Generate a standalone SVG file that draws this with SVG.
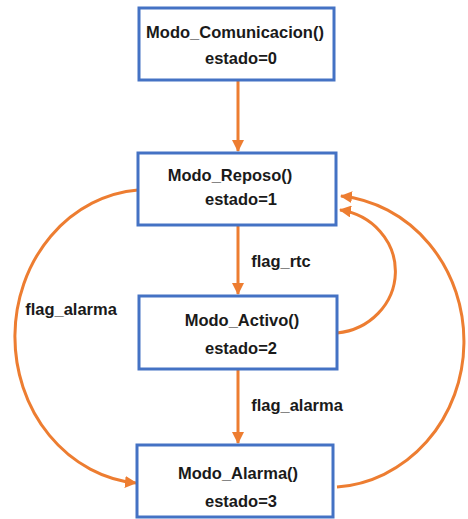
<svg xmlns="http://www.w3.org/2000/svg" width="468" height="519" viewBox="0 0 468 519">
<style>
.box{fill:#fff;stroke:#4472C4;stroke-width:3}
.t{font-family:"Liberation Sans",Arial,sans-serif;font-weight:bold;font-size:16.5px;fill:#1a1a1a;text-anchor:middle}
.c{fill:none;stroke:#ED7D31;stroke-width:3;marker-end:url(#ah)}
</style>
<defs>
<marker id="ah" markerWidth="12" markerHeight="12" refX="11" refY="6" orient="auto" markerUnits="userSpaceOnUse">
<path d="M0,0 L12,6 L0,12 z" fill="#ED7D31"/>
</marker>
</defs>
<rect width="468" height="519" fill="#fff"/>
<g id="connectors">
<path class="c" d="M238,81 L238,151"/>
<path class="c" d="M238,226 L238,294"/>
<path class="c" d="M238,370 L238,443"/>
<path class="c" d="M138,190 A133,147 0 0 0 136,483"/>
<path class="c" d="M337,333 A65,62 0 0 0 340,210"/>
<path class="c" d="M337,487 A136,146 0 0 0 341,196"/>
<text class="t" x="281" y="267">flag_rtc</text>
<text class="t" x="297" y="411">flag_alarma</text>
<text class="t" x="71" y="315">flag_alarma</text>
</g>
<g id="n0">
<rect class="box" x="139" y="8" width="195" height="72"/>
<text class="t" x="235" y="38">Modo_Comunicacion()</text>
<text class="t" x="241" y="64">estado=0</text>
</g>
<g id="n1">
<rect class="box" x="138" y="153" width="198" height="72"/>
<text class="t" x="230" y="181">Modo_Reposo()</text>
<text class="t" x="241" y="205">estado=1</text>
</g>
<g id="n2">
<rect class="box" x="139" y="296" width="198" height="73"/>
<text class="t" x="242" y="326">Modo_Activo()</text>
<text class="t" x="241" y="354">estado=2</text>
</g>
<g id="n3">
<rect class="box" x="137" y="445" width="196" height="72"/>
<text class="t" x="238" y="479">Modo_Alarma()</text>
<text class="t" x="241" y="507">estado=3</text>
</g>
</svg>
